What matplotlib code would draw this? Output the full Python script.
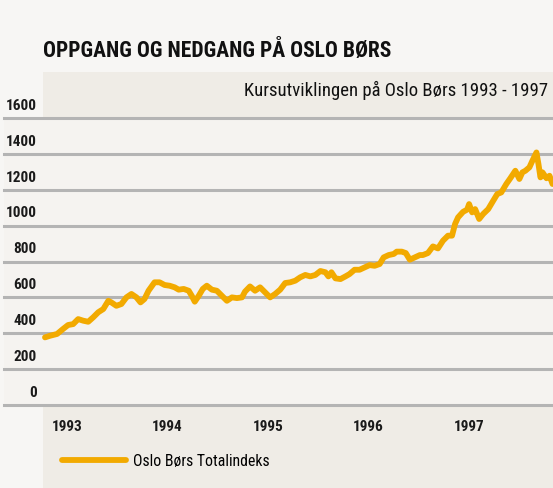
import matplotlib
matplotlib.use("Agg")
import matplotlib.pyplot as plt
from matplotlib import font_manager as fm
from matplotlib.patches import Rectangle

names = sorted(set(f.name for f in fm.fontManager.ttflist))
fam = None
for cand in ["Liberation Sans Narrow", "Roboto Condensed", "Open Sans Condensed", "Noto Sans"]:
    if cand in names:
        fam = cand
        break
plt.rcParams['font.family'] = [fam, 'DejaVu Sans']

# Data (fractional years, index values)
dates = [1993.01, 1993.06, 1993.13, 1993.19, 1993.24, 1993.29, 1993.34, 1993.39, 1993.44, 1993.49,
         1993.54, 1993.59, 1993.64, 1993.67, 1993.72, 1993.77, 1993.82, 1993.87, 1993.92, 1993.96,
         1994.00, 1994.04, 1994.10, 1994.15, 1994.20, 1994.25, 1994.30, 1994.34, 1994.39, 1994.44,
         1994.47, 1994.50, 1994.54, 1994.58, 1994.62, 1994.67, 1994.72, 1994.77, 1994.82, 1994.87,
         1994.92, 1994.97, 1995.00, 1995.05, 1995.10, 1995.15, 1995.20, 1995.25, 1995.30, 1995.35,
         1995.40, 1995.45, 1995.50, 1995.55, 1995.60, 1995.65, 1995.70, 1995.75, 1995.80, 1995.83,
         1995.86, 1995.90, 1995.95, 1996.00, 1996.04, 1996.09, 1996.14, 1996.19, 1996.24, 1996.29,
         1996.34, 1996.38, 1996.43, 1996.48, 1996.51, 1996.56, 1996.60, 1996.64, 1996.69, 1996.74,
         1996.77, 1996.82, 1996.87, 1996.92, 1996.97, 1997.02, 1997.06, 1997.09, 1997.12, 1997.17,
         1997.21, 1997.23, 1997.26, 1997.29, 1997.33, 1997.37, 1997.42, 1997.47, 1997.51, 1997.55,
         1997.60, 1997.64, 1997.69, 1997.73, 1997.76, 1997.79, 1997.83, 1997.86, 1997.90, 1997.92,
         1997.94, 1997.96, 1998.00, 1998.03, 1998.06]
values = [377, 386, 396, 424, 446, 451, 479, 470, 464, 489,
          517, 535, 581, 572, 553, 563, 600, 619, 600, 572,
          591, 637, 684, 684, 669, 665, 656, 643, 647, 637,
          609, 576, 609, 647, 665, 643, 637, 609, 581, 600,
          596, 600, 632, 661, 637, 656, 628, 600, 619, 643,
          680, 684, 693, 712, 725, 717, 725, 747, 740, 717,
          740, 706, 702, 717, 730, 754, 754, 767, 780, 776,
          786, 823, 836, 842, 855, 855, 847, 810, 823, 836,
          836, 847, 884, 873, 916, 944, 944, 1009, 1046, 1077,
          1089, 1120, 1074, 1092, 1037, 1065, 1092, 1139, 1176, 1185,
          1232, 1264, 1306, 1260, 1297, 1306, 1325, 1362, 1408, 1343,
          1269, 1297, 1264, 1278, 1232]

yticks = [0, 200, 400, 600, 800, 1000, 1200, 1400, 1600]
xlabels = ["1993", "1994", "1995", "1996", "1997"]
series_name = "Oslo Børs Totalindeks"
title = "OPPGANG OG NEDGANG PÅ OSLO BØRS"
subtitle = "Kursutviklingen på Oslo Børs 1993 - 1997"

W, H = 553, 489
fig = plt.figure(figsize=(W / 100, H / 100), dpi=100, facecolor="#f7f6f4")
fig.add_artist(Rectangle((43 / W, 0), 1, 1 - 73 / H, transform=fig.transFigure,
                         facecolor="#efece6", edgecolor="none", zorder=0))

ax = fig.add_axes([4 / W, 1 - 406 / H, 549 / W, 287 / H], facecolor="#f5f3f0")
ax.set_zorder(1)
px_per_year = 100.5
x0 = 1993.0 - 40 / px_per_year
x1 = x0 + 549 / px_per_year
ax.set_xlim(x0, x1)
ax.set_ylim(0, 1600)
for s in ax.spines.values():
    s.set_visible(False)

for v in yticks:
    ax.axhline(v, color="#b4b4b4", lw=2.2, clip_on=False, zorder=1)
    ax.annotate(str(v), xy=(37, v), xycoords=("figure pixels", "data"),
                xytext=(0, 4.5), textcoords="offset points", ha="right", va="bottom",
                fontsize=11, fontweight="bold", color="#1a1a1a", annotation_clip=False)
ax.set_yticks([])

ax.plot(dates, values, color="#f2aa00", lw=4.2, solid_joinstyle="round",
        solid_capstyle="round", zorder=3, label=series_name)

ax.set_xticks([int(y) + 0.23 for y in xlabels])
ax.set_xticklabels(xlabels, fontsize=11, fontweight="bold", color="#1a1a1a")
ax.tick_params(axis="x", length=0, pad=10)

fig.text(43 / W, 1 - 51 / H, title, fontsize=15.5, fontweight="bold", color="#111111",
         ha="left", va="center")
fig.text(548 / W, 1 - 90 / H, subtitle, fontsize=13.5, color="#111111",
         ha="right", va="center")

fig.legend(loc="center left", bbox_to_anchor=(62 / W, 1 - 462 / H), frameon=False,
           borderpad=0, borderaxespad=0, handlelength=4.1, handletextpad=0.4,
           prop={"size": 11.3})

fig.savefig("out.png", dpi=100, facecolor=fig.get_facecolor())
